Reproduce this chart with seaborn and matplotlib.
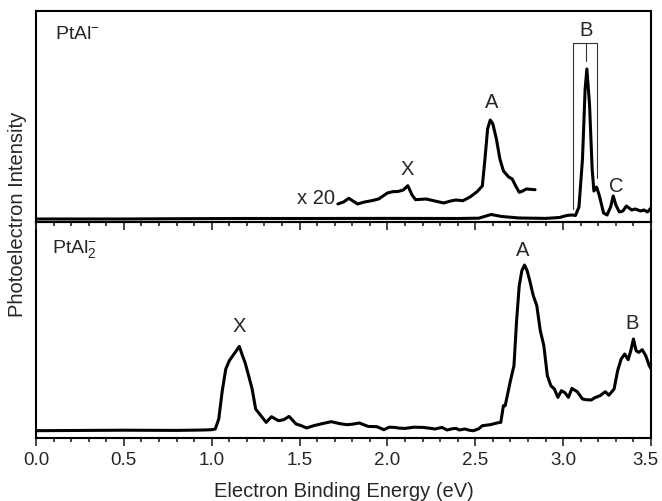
import numpy as np
import pandas as pd
import seaborn as sns
import matplotlib.pyplot as plt
import matplotlib.transforms as mtransforms
from matplotlib.ticker import MultipleLocator

# PtAl- spectrum (intensity in arbitrary units)
ptal_energy = [0.0, 0.5, 0.85, 1.2, 1.6, 2.0, 2.4, 2.52, 2.59, 2.65, 2.75, 2.9,
               2.98, 3.02, 3.05, 3.07, 3.09, 3.11, 3.125, 3.135, 3.15, 3.165,
               3.175, 3.19, 3.205, 3.23, 3.25, 3.27, 3.285, 3.30, 3.32, 3.34,
               3.36, 3.39, 3.41, 3.44, 3.46, 3.48, 3.5]
ptal_intensity = [0.0, 0.0, 0.3, 0.5, 0.5, 0.6, 0.5, 0.8, 4.5, 2.5, 1.0, 0.6,
                  1.5, 3.5, 4.0, 3.5, 12, 60, 130, 150, 115, 50,
                  28, 32, 24, 6, 4, 12, 23, 14, 7, 8,
                  13, 9, 10, 8, 9, 7, 11]

# x20 magnified part of the PtAl- spectrum (offset baseline included)
x20_energy = [1.718, 1.75, 1.78, 1.83, 1.87, 1.91, 1.95, 2.0, 2.03, 2.06, 2.09,
              2.116, 2.14, 2.16, 2.22, 2.27, 2.32, 2.36, 2.39, 2.43, 2.47,
              2.51, 2.54, 2.555, 2.57, 2.585, 2.60, 2.62, 2.64, 2.66, 2.69,
              2.71, 2.73, 2.75, 2.77, 2.79, 2.84]
x20_intensity = [15, 17, 20.7, 15, 17, 18.3, 20, 26, 27.3, 27.5, 29,
                 33.3, 24, 19.3, 20, 18, 16, 18, 19, 18.3, 22,
                 27.3, 33, 60, 90, 99, 95, 80, 60, 48, 42,
                 40, 33, 26.7, 28, 30, 29.3]

# PtAl2- spectrum
ptal2_energy = [0.0, 0.5, 0.8, 0.95, 1.0, 1.02, 1.04, 1.06, 1.08, 1.10, 1.12,
                1.14, 1.157, 1.175, 1.19, 1.21, 1.23, 1.25, 1.28, 1.31, 1.34,
                1.36, 1.38, 1.41, 1.44, 1.48, 1.51, 1.54, 1.58, 1.62, 1.68,
                1.73, 1.77, 1.80, 1.84, 1.89, 1.94, 1.98, 2.01, 2.04, 2.07,
                2.10, 2.15, 2.2, 2.24, 2.27, 2.31, 2.34, 2.37, 2.39, 2.41,
                2.44, 2.47, 2.49, 2.52, 2.54, 2.585, 2.63, 2.645, 2.66, 2.67,
                2.70, 2.72, 2.735, 2.75, 2.765, 2.78, 2.795, 2.81, 2.83, 2.85,
                2.87, 2.89, 2.91, 2.93, 2.95, 2.97, 2.99, 3.01, 3.03, 3.05,
                3.08, 3.11, 3.13, 3.16, 3.18, 3.21, 3.24, 3.26, 3.29, 3.31,
                3.33, 3.35, 3.37, 3.385, 3.40, 3.415, 3.43, 3.45, 3.47, 3.49,
                3.5]
ptal2_intensity = [0.0, 0.5, 0.3, 0.7, 1.0, 1.7, 11.7, 40, 61.7, 70, 75,
                   80, 84.3, 75, 68, 55, 41.7, 21.7, 15, 8.3, 14,
                   12, 10, 11, 14.3, 6.7, 5, 2.7, 5, 6.7, 9,
                   7, 6, 6.5, 7.7, 4.3, 4, 1, 3.5, 3.3, 2.5,
                   2.3, 3.5, 3.3, 2.5, 1.7, 3.3, 0.7, 2, 2.3, 0.7,
                   1.7, 0.3, 0, 2, 5, 6, 8, 8.3, 25, 25,
                   50, 65, 110, 145, 160, 165.7, 160, 150, 135, 125,
                   100, 85, 55, 45, 41.7, 33.3, 40, 38, 33.3, 42.3,
                   39, 31.7, 31, 30.7, 33, 35, 39, 35.5, 41.7, 60,
                   71.7, 76.7, 71, 80, 91.7, 80, 78.3, 81, 75, 65,
                   62]

xticks = [0.0, 0.5, 1.0, 1.5, 2.0, 2.5, 3.0, 3.5]

sns.set_style("ticks")
plt.rcParams['font.family'] = ['Liberation Sans', 'DejaVu Sans']
plt.rcParams['mathtext.fontset'] = 'custom'
plt.rcParams['mathtext.rm'] = 'Liberation Sans'
plt.rcParams['mathtext.it'] = 'Liberation Sans:italic'

fig = plt.figure(figsize=(6.62, 5.02), dpi=100)
ax_top = fig.add_axes([0.0544, 0.5558, 0.929, 0.4203])
ax_bot = fig.add_axes([0.0544, 0.1255, 0.929, 0.4303])
ax_top.set_zorder(2)
for ax in (ax_top, ax_bot):
    ax.patch.set_alpha(0)

line_kw = dict(color='black', linewidth=2.2, estimator=None, sort=False)
sns.lineplot(x=ptal_energy, y=ptal_intensity, ax=ax_top, **line_kw)
sns.lineplot(x=x20_energy, y=x20_intensity, ax=ax_top, **line_kw)
sns.lineplot(x=ptal2_energy, y=ptal2_intensity, ax=ax_bot, **line_kw)

ax_top.set_ylim(-3, 208)
ax_bot.set_ylim(-7.3, 208.7)

# bracket over the B band
bk = dict(color='#333333', linewidth=0.8)
ax_top.plot([3.058, 3.058], [10, 176], **bk)
ax_top.plot([3.195, 3.195], [41, 176], **bk)
ax_top.plot([3.058, 3.195], [176, 176], **bk)
ax_top.plot([3.130, 3.130], [176, 158], **bk)

lab = dict(fontsize=14.5, ha='center', va='center')
ax_top.text(3.13, 189, 'B', **lab)
ax_top.text(2.595, 117, 'A', **lab)
ax_top.text(2.11, 50, 'X', **lab)
ax_top.text(3.30, 33, 'C', **lab)
ax_top.text(1.70, 21, 'x 20', fontsize=14.5, ha='right', va='center')
ax_top.text(0.11, 185, r'PtAl$^{\mathregular{-}}$', fontsize=14, ha='left', va='center')

ax_bot.text(1.155, 105, 'X', **lab)
ax_bot.text(2.77, 181, 'A', **lab)
ax_bot.text(3.39, 108, 'B', **lab)
ax_bot.text(0.09, 183, r'PtAl$_{\mathregular{2}}^{\mathregular{-}}$', fontsize=14, ha='left', va='center')

for ax in (ax_top, ax_bot):
    ax.set_xlim(0, 3.5)
    ax.set_xticks(xticks)
    ax.xaxis.set_minor_locator(MultipleLocator(0.1))
    ax.set_yticks([])
    ax.tick_params(axis='x', which='major', direction='out', length=6, width=1.2)
    ax.tick_params(axis='x', which='minor', direction='out', length=3, width=1.2)
    for s in ax.spines.values():
        s.set_linewidth(1.5)
        s.set_color('black')
    ax.set_xlabel('')
    ax.set_ylabel('')

ax_top.tick_params(axis='x', labelbottom=False)
ax_bot.set_xticklabels([f'{t:.1f}' for t in xticks], fontsize=13.5)
ax_bot.set_xlabel('Electron Binding Energy (eV)', fontsize=14.5, labelpad=9)

# keep the last tick label inside the figure edge
last = ax_bot.get_xticklabels()[-1]
last.set_transform(last.get_transform() +
                   mtransforms.ScaledTranslation(-6 / 100, 0, fig.dpi_scale_trans))

fig.text(0.027, 0.572, 'Photoelectron Intensity', rotation=90, fontsize=14.5,
         ha='center', va='center')

fig.savefig('out.png', dpi=100)
